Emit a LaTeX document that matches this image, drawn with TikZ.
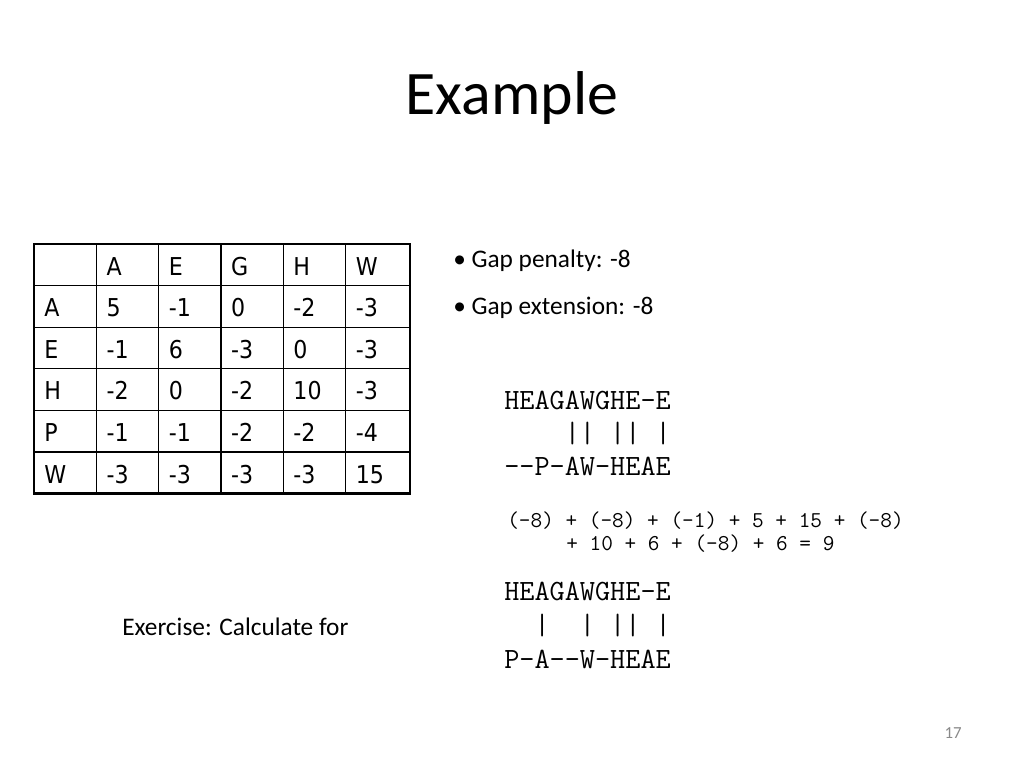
\documentclass[tikz,border=0pt]{standalone}
\usepackage{fontspec}
\setmainfont{Carlito}
\newfontfamily\cellfont{DejaVu Sans Condensed}
\usepackage{tikz}
\definecolor{pagegray}{HTML}{898989}
\tikzset{%
    cell/.style={anchor=base west, inner sep=0pt, font=\cellfont\fontsize{17.5}{20}\selectfont},
    bodytext/.style={anchor=base west, inner sep=0pt, font=\fontsize{18}{22}\selectfont},
    seq/.style={anchor=base west, inner sep=0pt, font=\ttfamily\fontsize{20.9}{22}\selectfont},
    score/.style={anchor=base west, inner sep=0pt, font=\ttfamily\fontsize{16.1}{18}\selectfont}
}

\begin{document}
\begin{tikzpicture}[x=0.025cm,y=-0.025cm]
        \useasboundingbox (0,0) rectangle (1024,768);
        \node[anchor=base, inner sep=0pt, font=\fontsize{44}{50}\selectfont] (title) at (512,115) {Example};

        \foreach \r in {1,...,5} \draw[line width=0.9pt] (34,{244+41.6*\r}) -- (410,{244+41.6*\r});
        \foreach \c in {1,...,5} \draw[line width=0.9pt] (34+62.3*\c,244) -- (34+62.3*\c,493.6);
        \draw[line width=2pt] (34,244) rectangle (410,493.6);
        \foreach \line [count=\r from 0] in {{ ,A,E,G,H,W},{A,5,-1,0,-2,-3},{E,-1,6,-3,0,-3},{H,-2,0,-2,10,-3},{P,-1,-1,-2,-2,-4},{W,-3,-3,-3,-3,15}}
            \foreach \val [count=\c from 0] in \line
                \node[cell] (cell-\r-\c) at (44+62.3*\c, 275+41.6*\r) {\val};

        \node[bodytext] (gap-open) at (453,267) {• Gap penalty: -8};
        \node[bodytext] (gap-ext) at (453,314) {• Gap extension: -8};

        \node[seq] (seq1-top) at (504,409) {HEAGAWGHE-E};
        \node[seq] (seq1-bars) at (504,442) {\ \ \ \ ||\ ||\ |};
        \node[seq] (seq1-bot) at (504,475) {--P-AW-HEAE};
        \node[score] (score-a) at (507,527) {(-8) + (-8) + (-1) + 5 + 15 + (-8)};
        \node[score] (score-b) at (566,550) {+ 10 + 6 + (-8) + 6 = 9};

        \node[bodytext] (exercise) at (122,635) {Exercise: Calculate for};
        \node[seq] (seq2-top) at (504,600) {HEAGAWGHE-E};
        \node[seq] (seq2-bars) at (504,634) {\ \ |\ \ |\ ||\ |};
        \node[seq] (seq2-bot) at (504,668) {P-A--W-HEAE};

        \node[anchor=base east, inner sep=0pt, text=pagegray, font=\fontsize{12}{14}\selectfont] (page-no) at (962,738) {17};
\end{tikzpicture}
\end{document}
